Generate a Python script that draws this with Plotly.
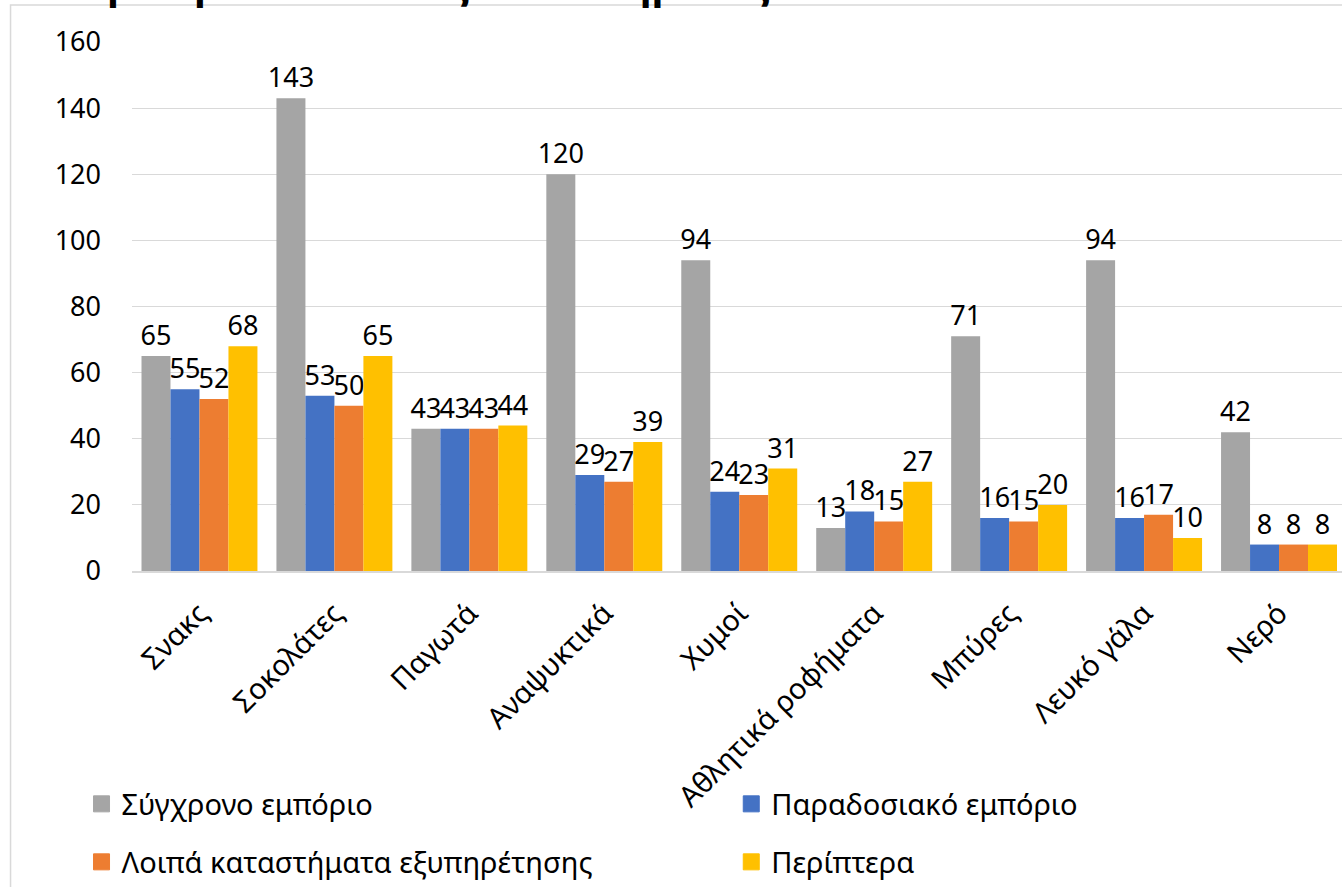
import plotly.graph_objects as go

categories = ["Σνακς", "Σοκολάτες", "Παγωτά", "Αναψυκτικά", "Χυμοί",
              "Αθλητικά ροφήματα", "Μπύρες", "Λευκό γάλα", "Νερό"]
series_names = ["Σύγχρονο εμπόριο", "Παραδοσιακό εμπόριο",
                "Λοιπά καταστήματα εξυπηρέτησης", "Περίπτερα"]
modern_trade = [65, 143, 43, 120, 94, 13, 71, 94, 42]
traditional_trade = [55, 53, 43, 29, 24, 18, 16, 16, 8]
other_stores = [52, 50, 43, 27, 23, 15, 15, 17, 8]
kiosks = [68, 65, 44, 39, 31, 27, 20, 10, 8]
y_ticks = [0, 20, 40, 60, 80, 100, 120, 140, 160]
title_text = "Διαθεσιμότητα ανά τύπος καταστήματος"

colors = ["#A5A5A5", "#4472C4", "#ED7D31", "#FFC000"]
values = [modern_trade, traditional_trade, other_stores, kiosks]

W, H = 1342, 887
L, T, B = 131.5, 42, 316
PW = W - L
PH = H - T - B

def px_x(p):
    return (p - L) / PW

def px_y(p):
    return (H - B - p) / PH

FONT = "Noto Sans"
fig = go.Figure()
legend_names = ["legend", "legend2", "legend3", "legend4"]
for i, (name, vals) in enumerate(zip(series_names, values)):
    fig.add_trace(go.Bar(
        x=categories, y=vals, name=name,
        marker=dict(color=colors[i], line=dict(width=0)),
        text=[str(v) for v in vals], textposition="outside",
        textfont=dict(size=27, color="#000000", family=FONT),
        cliponaxis=False, constraintext="none",
        showlegend=False,
    ))
# legend entries (square swatches)
for i, name in enumerate(series_names):
    fig.add_trace(go.Scatter(
        x=[None], y=[None], mode="markers", name=name,
        marker=dict(symbol="square", size=18, color=colors[i],
                    line=dict(width=1, color=colors[i])),
        legend=legend_names[i], showlegend=True, hoverinfo="skip",
    ))

leg_pos = [(81, 804), (731, 804), (81, 862), (731, 862)]
layout_legends = {}
for ln, (lx, ly) in zip(legend_names, leg_pos):
    layout_legends[ln] = dict(
        x=px_x(lx), y=px_y(ly), xanchor="left", yanchor="middle",
        font=dict(size=29, color="#000000", family=FONT),
        bgcolor="rgba(0,0,0,0)", borderwidth=0,
    )

fig.update_layout(
    width=W, height=H,
    margin=dict(l=L, r=0, t=T, b=B, pad=0, autoexpand=False),
    paper_bgcolor="white", plot_bgcolor="white",
    barmode="group", bargap=19 / 135, bargroupgap=0,
    font=dict(family=FONT, color="#000000"),
    showlegend=True,
    xaxis=dict(
        range=[-0.5, 8.5 - 4.5 / 135], tickangle=-45,
        tickfont=dict(size=29, color="#000000", family=FONT),
        showgrid=False, showline=True, linecolor="#D9D9D9", linewidth=1.5,
        ticks="", fixedrange=True, ticklabelstandoff=12,
    ),
    yaxis=dict(
        range=[0, 160], tickvals=y_ticks,
        tickfont=dict(size=27, color="#000000", family=FONT),
        showgrid=True, gridcolor="#D9D9D9", gridwidth=1,
        zeroline=False, showline=False, ticks="",
        ticklabelstandoff=30,
    ),
    shapes=[dict(
        type="rect", xref="paper", yref="paper",
        x0=px_x(10), x1=px_x(W + 20), y0=px_y(H + 20), y1=px_y(5),
        line=dict(color="#D9D9D9", width=1.5), fillcolor="rgba(0,0,0,0)",
        layer="below",
    )],
    annotations=[dict(
        text="<b>" + title_text + "</b>", xref="paper", yref="paper",
        x=px_x(772), y=px_y(-17), xanchor="right", yanchor="middle",
        showarrow=False, font=dict(size=40, color="#000000", family=FONT),
    )],
    **layout_legends,
)

fig.write_html("out.html", config={"displayModeBar": False},
               post_script="document.body.style.margin='0px';")
